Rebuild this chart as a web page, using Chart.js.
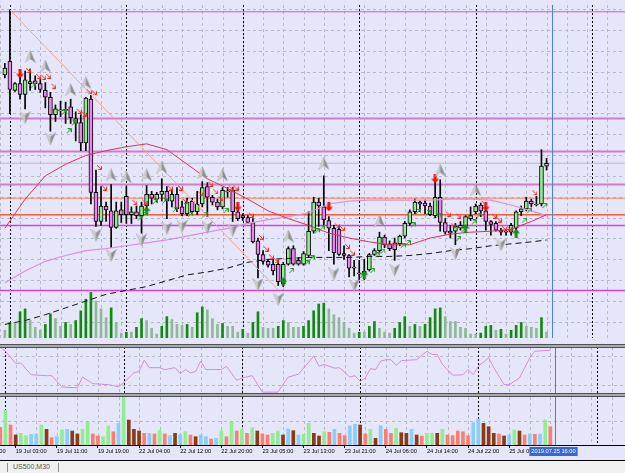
<!DOCTYPE html>
<html>
<head>
<meta charset="utf-8">
<script src="https://cdn.jsdelivr.net/npm/chart.js@4.4.1/dist/chart.umd.min.js"></script>
<style>
  html, body { margin: 0; padding: 0; }
  body { width: 625px; height: 473px; overflow: hidden; position: relative; background: #f0f0f0; font-family: 'Liberation Sans', Arial, sans-serif; }
  #plot { position: absolute; left: 0; top: 0; width: 625px; height: 460px; background: #e6e6fa; overflow: hidden; }
  #plot canvas { position: absolute; left: -28px; }
  .sep { position: absolute; left: 0; width: 625px; height: 2px; background: #a9a9b0; border-top: 1px solid #505050; border-bottom: 1px solid #505050; z-index: 5; }
  #tabs { position: absolute; left: 0; top: 460px; width: 625px; height: 13px; border-top: 1px solid #000; background: #f0f0f0; }
  #tabs .bar { position: absolute; top: 2px; width: 1px; height: 9px; background: #909090; }
  #tabs .name { position: absolute; left: 13px; top: 2px; font-size: 7px; color: #555; }
</style>
</head>
<body>
<div id="plot">
  <canvas id="main" width="658" height="343" style="top:0"></canvas>
  <canvas id="osc" width="658" height="47" style="top:347px"></canvas>
  <canvas id="vols" width="658" height="63" style="top:397px"></canvas>
  <div class="sep" style="top:344px"></div>
  <div class="sep" style="top:393px"></div>
</div>
<div id="tabs"><div class="bar" style="left:7px"></div><span class="name">US500,M30</span><div class="bar" style="left:58px"></div></div>
<script>
// ---- bar calendar (H1 bars, 01:00-23:00 sessions) ----
const days = ['19 Jul', '22 Jul', '23 Jul', '24 Jul', '25 Jul', '26 Jul'];
const pad = (n) => String(n).padStart(2, '0');
const cats = [];
for (let h = 18; h <= 23; h++) cats.push(`18 Jul ${pad(h)}:00`);
days.forEach((d) => { for (let h = 1; h <= 23; h++) cats.push(`${d} ${pad(h)}:00`); });
cats.length = 128;

const firstBar = '18 Jul 23:00';
const cursorBar = '25 Jul 16:00';
const cursorText = '2019.07.25 16:00';
const xTickLabels = ['18 Jul 18:00', '19 Jul 03:00', '19 Jul 11:00', '19 Jul 19:00', '22 Jul 04:00', '22 Jul 12:00',
  '22 Jul 20:00', '23 Jul 05:00', '23 Jul 13:00', '23 Jul 21:00', '24 Jul 06:00', '24 Jul 14:00', '24 Jul 22:00', '25 Jul 07:00'];

// ---- prices, one value per bar from firstBar ----
const open = [3012.8, 3014.2, 3011.2, 3011.9, 3010.8, 3011.9, 3012.2, 3011.9, 3011.2, 3010.5, 3008.7, 3009.1, 3009.2, 3009.5, 3008.3, 3007.9,
  3005.8, 3010.3, 3000.7, 2997.7, 2999.3, 2998.8, 2997.1, 2998.9, 3000.3, 2998.4, 2998.7, 2998.3, 2999.3, 3000.5, 3000.0, 3000.5,
  3000.8, 2999.8, 3000.5, 2999.2, 2998.5, 2999.8, 2998.7, 2999.5, 3001.3, 3000.2, 2999.7, 2999.2, 3000.8, 3000.9, 2998.7, 2998.3,
  2998.1, 2997.6, 2995.7, 2994.3, 2993.6, 2993.3, 2993.3, 2991.3, 2993.3, 2994.9, 2993.7, 2993.3, 2994.2, 2996.7, 2999.7, 2999.2,
  2997.8, 2997.0, 2996.9, 2994.4, 2994.2, 2993.0, 2992.4, 2992.3, 2992.7, 2994.3, 2994.7, 2996.1, 2995.4, 2995.5, 2995.4, 2996.2,
  2997.5, 2998.7, 2999.7, 2999.6, 2999.3, 2998.3, 3000.2, 2997.6, 2996.7, 2996.7, 2997.0, 2997.2, 2998.0, 2998.7, 2999.4, 2998.8,
  2997.7, 2997.5, 2996.8, 2996.7, 2996.6, 2997.0, 2998.7, 2999.0, 2999.8, 2999.4, 2999.5, 3003.4];
const high = [3014.0, 3019.5, 3012.0, 3013.0, 3013.2, 3013.4, 3012.7, 3012.4, 3012.0, 3011.0, 3009.7, 3010.1, 3010.0, 3010.3, 3009.0, 3008.7,
  3010.5, 3010.7, 3003.0, 3001.3, 2999.7, 3001.5, 2999.7, 2999.7, 3001.3, 2999.2, 2999.3, 2999.7, 3001.4, 3000.8, 3000.7, 3002.1,
  3001.3, 3001.0, 3001.2, 2999.8, 3000.1, 3000.1, 3000.8, 3001.8, 3001.7, 3000.4, 3000.0, 3001.2, 3001.2, 3001.2, 2999.2, 2998.5,
  2998.3, 2998.0, 2996.0, 2994.7, 2993.8, 2993.8, 2993.7, 2993.5, 2995.1, 2995.2, 2994.0, 2994.6, 2998.7, 3000.2, 3000.1, 3002.4,
  2998.2, 2997.3, 2997.2, 2995.2, 2994.3, 2993.7, 2993.7, 2993.8, 2994.4, 2994.9, 2996.6, 2996.3, 2995.7, 2996.0, 2996.3, 2997.7,
  2998.9, 3000.0, 2999.8, 2999.9, 2999.6, 3001.8, 3002.0, 2998.0, 2997.3, 2997.5, 2997.7, 2998.3, 2999.2, 2999.5, 2999.6, 2999.0,
  2997.8, 2997.7, 2997.0, 2996.9, 2997.5, 2998.8, 2999.3, 3000.2, 3000.0, 3000.3, 3005.1, 3004.2];
const low = [3012.5, 3008.8, 3011.1, 3010.3, 3009.3, 3011.2, 3011.3, 3011.0, 3009.4, 3007.0, 3008.0, 3008.5, 3007.8, 3007.8, 3006.0, 3005.0,
  3005.0, 2999.5, 2997.2, 2997.3, 2997.7, 2995.0, 2997.0, 2997.6, 2997.5, 2997.5, 2998.0, 2996.5, 2998.8, 2999.5, 2999.7, 2999.8,
  2998.0, 2999.2, 2998.7, 2998.3, 2998.3, 2998.5, 2998.4, 2999.2, 2998.2, 2999.4, 2998.9, 2999.0, 3000.2, 2997.7, 2997.8, 2997.8,
  2997.5, 2995.5, 2991.9, 2993.3, 2993.0, 2992.2, 2991.1, 2991.0, 2993.2, 2993.2, 2993.2, 2993.2, 2994.0, 2996.5, 2997.2, 2997.3,
  2994.7, 2993.3, 2994.2, 2993.8, 2992.0, 2992.1, 2991.7, 2991.7, 2992.6, 2994.2, 2994.5, 2995.0, 2994.7, 2993.7, 2995.2, 2996.0,
  2997.3, 2998.5, 2998.7, 2998.5, 2998.3, 2998.1, 2996.7, 2996.4, 2996.0, 2995.3, 2996.8, 2997.0, 2997.8, 2998.5, 2998.2, 2996.8,
  2996.3, 2996.7, 2996.3, 2996.3, 2996.3, 2996.7, 2998.3, 2998.8, 2999.2, 2999.3, 2999.3, 3003.0];
const close = [3013.5, 3011.3, 3011.9, 3010.8, 3012.3, 3012.1, 3011.9, 3011.3, 3010.5, 3008.7, 3009.3, 3009.2, 3009.2, 3008.4, 3007.8, 3005.8,
  3010.4, 3000.7, 2997.7, 2999.3, 2998.9, 2997.1, 2998.8, 2998.4, 2998.4, 2998.7, 2998.3, 2999.3, 3000.5, 3000.1, 3000.5, 3000.8,
  2999.8, 3000.5, 2999.0, 2998.5, 2999.7, 2998.7, 2999.5, 3001.2, 3000.2, 2999.7, 2999.2, 3000.9, 3000.8, 2998.7, 2998.0, 2998.1,
  2997.6, 2995.6, 2994.3, 2993.6, 2993.2, 2992.6, 2991.5, 2993.3, 2994.9, 2993.3, 2993.3, 2994.4, 2996.7, 2999.7, 2999.3, 2997.9,
  2997.0, 2994.5, 2994.3, 2994.2, 2992.9, 2992.9, 2992.3, 2992.6, 2994.3, 2994.7, 2996.1, 2995.3, 2994.9, 2994.8, 2996.2, 2997.5,
  2998.7, 2999.7, 2999.5, 2999.3, 2998.4, 3000.2, 2997.6, 2996.6, 2996.5, 2997.2, 2997.3, 2998.2, 2998.3, 2999.3, 2998.8, 2997.7,
  2997.4, 2996.8, 2996.6, 2996.6, 2997.3, 2998.7, 2999.0, 2999.8, 2999.5, 2999.5, 3003.4, 3003.7];

// tick volume (main window histogram)
const tickVol = [800, 1600, 1500, 2700, 3000, 1800, 1100, 800, 1400, 2500, 2000, 1200, 1600, 1400, 1800, 2800,
  4000, 4700, 3800, 3000, 2100, 3100, 1600, 500, 600, 600, 1100, 2000, 1800, 1000, 400, 1200,
  2200, 1900, 1400, 1300, 1400, 1100, 2600, 3200, 2900, 2000, 1400, 1500, 1200, 1200, 600, 900,
  500, 1600, 2700, 1100, 1000, 1000, 1200, 1800, 1600, 1100, 1100, 1200, 1800, 2800, 3500, 3600,
  3000, 2400, 2100, 1600, 1000, 500, 600, 600, 1200, 1700, 1000, 600, 500, 1000, 1600, 2200,
  1200, 1400, 1200, 1400, 2100, 3000, 3100, 2200, 1700, 1700, 1100, 1000, 400, 400, 500, 1200,
  1300, 800, 900, 400, 800, 1300, 1600, 1200, 1100, 1000, 2100, 600];

// lower window volume bars and their class (s = climax down, b = churn, g = climax up, l = low volume)
const barVol = [177, 350, 200, 100, 117, 93, 107, 110, 200, 157, 73, 83, 150, 157, 140, 110,
  157, 227, 110, 90, 83, 190, 133, 217, 477, 250, 157, 140, 117, 117, 110, 150,
  110, 93, 117, 107, 133, 100, 83, 100, 83, 60, 67, 143, 83, 227, 140, 160,
  117, 173, 140, 110, 100, 117, 140, 100, 160, 143, 100, 107, 217, 117, 90, 133,
  127, 157, 117, 93, 190, 207, 200, 110, 157, 67, 193, 157, 117, 167, 123, 117,
  157, 100, 90, 117, 117, 117, 157, 100, 93, 140, 133, 93, 223, 260, 217, 183,
  117, 110, 90, 100, 150, 140, 100, 110, 107, 110, 250, 183];
const barClass = 'sgsbggllgb' + 'slglbbggss' + 'ggslgbbbsl' + 'sgslblgsbl' + 'lslgsgsgsg' + 'bssggblblg' +
  'gbbgslssll' + 'bsgblssgbb' + 'lbsggbgsss' + 'ssllbbbsbl' + 'gbslslgs';

// moving averages and trend line, [bar offset from firstBar, price]
const maRed = [[0, 2997.0], [4, 3000.0], [8, 3002.4], [12, 3003.6], [16, 3004.5], [20, 3005.0], [24, 3005.4], [28, 3005.7],
  [32, 3005.1], [36, 3003.6], [40, 3002.1], [44, 3001.1], [48, 3000.0], [52, 2998.8], [56, 2998.0], [60, 2997.3], [64, 2996.5],
  [68, 2996.0], [72, 2995.6], [76, 2995.3], [80, 2995.3], [84, 2996.0], [88, 2996.4], [92, 2996.6], [96, 2996.7], [100, 2996.9],
  [104, 2997.7], [107, 2998.4]];
const maPink = [[0, 2991.4], [4, 2992.6], [8, 2993.6], [12, 2994.2], [16, 2994.7], [20, 2994.9], [24, 2995.2], [28, 2995.5],
  [32, 2995.8], [36, 2996.2], [40, 2996.6], [44, 2997.0], [48, 2997.5], [52, 2997.9], [56, 2998.2], [60, 2998.6], [64, 2999.5],
  [68, 2999.8], [72, 2999.9], [76, 2999.9], [80, 2999.9], [84, 2999.9], [88, 3000.0], [92, 3000.0], [96, 2999.9], [100, 2999.4],
  [104, 2998.8], [107, 2998.3]];
const maSlow = [[0, 2987.1], [4, 2987.5], [8, 2988.1], [12, 2988.8], [16, 2989.5], [20, 2990.2], [24, 2990.6], [28, 2991.0],
  [32, 2991.6], [36, 2992.2], [40, 2992.5], [44, 2992.9], [48, 2993.5], [52, 2993.8], [56, 2993.9], [60, 2994.0], [64, 2994.0],
  [68, 2994.0], [72, 2994.1], [76, 2994.1], [80, 2994.2], [84, 2994.4], [88, 2994.7], [92, 2994.9], [96, 2995.2], [100, 2995.4],
  [104, 2995.6], [107, 2995.8]];
const trendLine = [[1, 3019.5], [54, 2990.65]];

// fractals and signal arrows, [bar offset, price]
const fractalUp = [[5, 3014.7], [8, 3013.7], [13, 3011.3], [16, 3012.0], [21, 3002.5], [24, 3002.3], [28, 3002.5], [31, 3003.3],
  [39, 3002.7], [43, 3002.5], [56, 2996.2], [63, 3003.7], [74, 2997.8], [86, 3003.0], [93, 3001.0]];
const fractalDown = [[4, 3008.4], [9, 3006.2], [18, 2996.3], [21, 2994.2], [27, 2995.8], [32, 2997.0], [35, 2997.2], [40, 2997.1],
  [45, 2996.8], [50, 2991.2], [54, 2989.7], [65, 2992.3], [69, 2991.1], [77, 2992.7], [89, 2994.4], [98, 2995.3]];
const sellSignals = [[3, 3012.9], [46, 2999.2], [64, 2999.2], [85, 3002.1], [95, 2999.2]];
const buySignals = [[28, 2998.8], [55, 2991.5], [71, 2992.2], [91, 2997.0], [101, 2996.5]];
const sellTicks = [[4, 3013.3], [6, 3012.7], [7, 3012.6], [8, 3012.7], [9, 3011.7], [14, 3009.1], [15, 3008.8], [16, 3011.1],
  [17, 3011.0], [18, 3003.3], [19, 3001.2], [25, 2999.7], [27, 2999.7], [32, 3001.2], [34, 3001.2], [35, 2999.8], [38, 3000.6],
  [40, 3001.6], [41, 3000.8], [42, 3000.1], [44, 3001.2], [45, 3001.2], [48, 2998.4], [50, 2996.1], [51, 2994.9], [52, 2994.1],
  [53, 2993.7], [65, 2997.3], [66, 2997.0], [67, 2995.2], [68, 2994.5], [87, 2998.5], [88, 2997.3], [89, 2998.3], [94, 2999.6],
  [96, 2998.3], [97, 2997.9], [98, 2997.0], [99, 2997.0], [104, 3000.7]];
const buyTicks = [[5, 3011.7], [11, 3008.9], [12, 3007.0], [13, 3007.8], [26, 2998.0], [27, 2998.4], [29, 2999.7], [31, 2999.8],
  [33, 2998.9], [36, 2998.4], [39, 2998.4], [43, 2998.8], [56, 2992.6], [59, 2993.4], [60, 2993.9], [61, 2996.7], [62, 2997.0],
  [70, 2992.1], [72, 2992.6], [73, 2994.2], [74, 2994.6], [78, 2995.2], [79, 2995.5], [80, 2997.3], [81, 2998.7], [83, 2998.6],
  [85, 2998.3], [89, 2995.9], [90, 2996.8], [92, 2997.6], [93, 2998.3], [102, 2997.8], [103, 2998.8], [106, 2999.3]];

// horizontal levels drawn on the chart
const levelPrices = [3019.3, 3008.3, 3004.9, 3003.7, 3001.5, 3000.1, 2998.4, 2997.3, 2990.6];
const levelKinds = ['top', 'zone', 'zone', 'bid', 'zone', 'pivot', 'pivotMain', 'band', 'band'];
const priceGrid = [3019.6, 3017.45, 3015.3, 3013.15, 3011.0, 3008.85, 3006.7, 3004.55, 3002.4, 3000.25, 2998.1, 2995.95,
  2993.8, 2991.65, 2989.5, 2987.35];

// oscillator (lower window 1), [bar offset, value]
const oscLine = [[0, 99], [1, 91], [3, 65], [4, 66], [6, 41], [9, 39], [10, 39], [12, 15], [15, 13], [16, 36], [18, 22], [21, 20],
  [23, 15], [24, 24], [26, 45], [27, 48], [28, 72], [29, 56], [31, 56], [32, 52], [34, 56], [35, 43], [36, 52], [37, 45], [38, 48],
  [39, 70], [40, 52], [43, 52], [44, 59], [46, 29], [47, 34], [49, 39], [51, 4], [54, 4], [56, 36], [58, 42], [61, 81], [62, 59],
  [63, 63], [65, 55], [66, 56], [68, 36], [69, 39], [70, 27], [71, 34], [72, 54], [73, 52], [74, 70], [75, 73], [76, 73], [77, 61],
  [78, 71], [81, 73], [83, 91], [84, 84], [85, 84], [86, 63], [88, 40], [90, 41], [91, 52], [92, 41], [93, 59], [95, 77], [96, 56],
  [98, 20], [99, 20], [101, 34], [103, 77], [104, 91], [107, 93]];
const oscGrid = [20, 80];

// ---- helpers ----
const k0 = cats.indexOf(firstBar);
const perBar = (fn) => cats.map((c, k) => { const j = k - k0; return j >= 0 && j < close.length ? fn(j) : null; });
// offsets in the [offset, value] lists count firstBar as 0
const pts = (list) => list.map(([j, v]) => ({ x: cats[k0 + j], y: v }));

function hline(ctx, x1, y1, x2, y2) { ctx.beginPath(); ctx.moveTo(x1, y1); ctx.lineTo(x2, y2); ctx.stroke(); }

const levelStyle = {
  top: ['#cc5acc', 1], zone: ['#d27ad2', 2], bid: ['#b9b9c3', 1], pivot: ['#ff7f50', 1], pivotMain: ['#ff5a36', 1.5], band: ['#dd3fdd', 1.5]
};

function backdrop(cfg) {
  return {
    id: 'backdrop' + cfg.name,
    beforeDatasetsDraw(chart) {
      const { ctx, chartArea: a, scales } = chart;
      const x = scales.x;
      const y = scales.y;
      ctx.save();
      ctx.lineWidth = 1;
      ctx.strokeStyle = '#b8b8c6';
      ctx.setLineDash([3, 3]);
      (cfg.hGrid || []).forEach((v) => {
        const py = Math.round(y.getPixelForValue(v)) + 0.5;
        hline(ctx, a.left, py, a.right, py);
      });
      cats.forEach((c, k) => {
        if (k % 4 !== 0) return;
        const px = Math.round(x.getPixelForValue(k)) + 0.5;
        hline(ctx, px, a.top, px, a.bottom);
      });
      ctx.strokeStyle = '#000';
      ctx.setLineDash([2, 2]);
      cats.forEach((c, k) => {
        if (!c.endsWith(' 01:00')) return;
        const px = Math.round(x.getPixelForValue(k)) + 0.5;
        hline(ctx, px, a.top, px, a.bottom);
      });
      ctx.setLineDash([]);
      if (cfg.levels) {
        levelPrices.forEach((p, n) => {
          const [color, w] = levelStyle[levelKinds[n]];
          const py = y.getPixelForValue(p);
          ctx.strokeStyle = color;
          ctx.lineWidth = w;
          hline(ctx, a.left, py, a.right, py);
        });
      }
      ctx.restore();
    },
    afterDatasetsDraw(chart) {
      const { ctx, chartArea: a, scales } = chart;
      const px = Math.round(scales.x.getPixelForValue(cats.indexOf(cursorBar))) + 0.5;
      ctx.save();
      ctx.strokeStyle = '#4a7fe8';
      ctx.lineWidth = 1;
      hline(ctx, px, a.top, px, a.bottom);
      if (cfg.stamp) {
        ctx.font = '5.7px "Liberation Sans", Arial, sans-serif';
        const w = ctx.measureText(cursorText).width + 4;
        ctx.fillStyle = '#3568d4';
        ctx.fillRect(px - w / 2 - 2, a.bottom + 2, w, 9);
        ctx.fillStyle = '#fff';
        ctx.textBaseline = 'middle';
        ctx.fillText(cursorText, px - w / 2, a.bottom + 6.5);
      }
      ctx.restore();
    }
  };
}

function arrowHead(up) {
  const c = document.createElement('canvas');
  c.width = 11; c.height = 13;
  const g = c.getContext('2d');
  if (!up) { g.translate(0, 13); g.scale(1, -1); }
  g.beginPath(); g.moveTo(5.5, 0); g.lineTo(11, 13); g.lineTo(5.5, 9); g.lineTo(0, 13); g.closePath();
  g.fillStyle = '#8e8e8e'; g.fill();
  g.beginPath(); g.moveTo(5.5, 0); g.lineTo(5.5, 9); g.lineTo(0, 13); g.closePath();
  g.fillStyle = '#cdcdcd'; g.fill();
  return c;
}

function signalArrow(up, color) {
  const c = document.createElement('canvas');
  c.width = 8; c.height = 9;
  const g = c.getContext('2d');
  if (!up) { g.translate(0, 9); g.scale(1, -1); }
  g.beginPath(); g.moveTo(4, 0); g.lineTo(8, 4.5); g.lineTo(5.5, 4.5); g.lineTo(5.5, 9); g.lineTo(2.5, 9); g.lineTo(2.5, 4.5); g.lineTo(0, 4.5); g.closePath();
  g.fillStyle = color; g.fill();
  return c;
}

// tiny diagonal arrow drawn to the right of the bar (down-right for sell, up-right for buy)
function tickArrow(sell, color) {
  const c = document.createElement('canvas');
  c.width = 12; c.height = 6;
  const g = c.getContext('2d');
  if (!sell) { g.translate(0, 6); g.scale(1, -1); }
  g.strokeStyle = color; g.lineWidth = 1;
  g.beginPath(); g.moveTo(7, 1); g.lineTo(11, 5); g.stroke();
  g.beginPath(); g.moveTo(8, 5.5); g.lineTo(11.5, 5.5); g.lineTo(11.5, 2); g.stroke();
  return c;
}

const base = {
  responsive: false,
  animation: false,
  layout: { padding: 0 },
  plugins: { legend: { display: false }, tooltip: { enabled: false } },
  events: []
};

const xHidden = { type: 'category', labels: cats, offset: true, display: false };

// ---- main window ----
new Chart(document.getElementById('main'), {
  type: 'bar',
  data: {
    labels: cats,
    datasets: [
      {
        data: perBar((j) => tickVol[j]), yAxisID: 'yv', grouped: false, barThickness: 2, order: 10,
        backgroundColor: perBar((j) => (j > 0 && tickVol[j] > tickVol[j - 1] ? '#128a12' : '#8fb996'))
      },
      { data: perBar((j) => [low[j], high[j]]), grouped: false, barThickness: 1, backgroundColor: '#000', order: 4 },
      {
        data: perBar((j) => (open[j] === close[j] ? [open[j] - 0.05, close[j] + 0.05] : [open[j], close[j]])),
        grouped: false, barThickness: 4, borderWidth: 1, borderColor: '#000', borderSkipped: false, order: 3,
        backgroundColor: perBar((j) => (close[j] >= open[j] ? '#90ee90' : '#ee82ee'))
      },
      { type: 'line', data: pts(trendLine), borderColor: '#f7a08e', borderWidth: 1, pointRadius: 0, order: 2 },
      { type: 'line', data: pts(maRed), borderColor: '#e0305a', borderWidth: 1, pointRadius: 0, order: 2 },
      { type: 'line', data: pts(maPink), borderColor: '#e08ee0', borderWidth: 1.2, pointRadius: 0, order: 2 },
      { type: 'line', data: pts(maSlow), borderColor: '#111', borderWidth: 1, borderDash: [6, 4], pointRadius: 0, order: 2 },
      { type: 'line', data: pts(sellTicks), showLine: false, pointStyle: tickArrow(true, '#f52a1a'), order: 1 },
      { type: 'line', data: pts(buyTicks), showLine: false, pointStyle: tickArrow(false, '#1d9a1d'), order: 1 },
      { type: 'line', data: pts(fractalUp), showLine: false, pointStyle: arrowHead(true), order: 1 },
      { type: 'line', data: pts(fractalDown), showLine: false, pointStyle: arrowHead(false), order: 1 },
      { type: 'line', data: pts(sellSignals), showLine: false, pointStyle: signalArrow(false, '#ee1111'), order: 1 },
      { type: 'line', data: pts(buySignals), showLine: false, pointStyle: signalArrow(true, '#138a13'), order: 1 }
    ]
  },
  options: {
    ...base,
    scales: {
      x: xHidden,
      y: { display: false, min: 2985.7, max: 3020 },
      yv: { display: false, min: 0, max: 34300 }
    }
  },
  plugins: [backdrop({ name: 'main', hGrid: priceGrid, levels: true })]
});

// ---- oscillator window ----
new Chart(document.getElementById('osc'), {
  type: 'line',
  data: {
    labels: cats,
    datasets: [{ data: pts(oscLine), borderColor: '#d98ad9', borderWidth: 1, pointRadius: 0 }]
  },
  options: {
    ...base,
    scales: { x: xHidden, y: { display: false, min: 0, max: 100 } }
  },
  plugins: [backdrop({ name: 'osc', hGrid: oscGrid })]
});

// ---- volume window with the time axis ----
const classColor = { s: '#fa7f6e', b: '#8b3a16', g: '#90ee90', l: '#87cefa' };
new Chart(document.getElementById('vols'), {
  type: 'bar',
  data: {
    labels: cats,
    datasets: [{
      data: perBar((j) => barVol[j]), barThickness: 3,
      backgroundColor: perBar((j) => classColor[barClass[j]])
    }]
  },
  options: {
    ...base,
    scales: {
      x: {
        type: 'category', labels: cats, offset: true,
        afterFit: (s) => { s.height = 15; },
        border: { display: true, color: '#000' },
        grid: {
          offset: false, drawOnChartArea: false, drawTicks: true, tickLength: 3,
          tickColor: (ctx) => (xTickLabels.includes(cats[ctx.index]) ? '#000' : 'rgba(0,0,0,0)')
        },
        ticks: {
          autoSkip: false, maxRotation: 0, minRotation: 0, align: 'start', padding: 0, color: '#000',
          font: { family: '"Liberation Sans", Arial, sans-serif', size: 5.7 },
          callback: (v, k) => (xTickLabels.includes(cats[k]) ? cats[k] : '')
        }
      },
      y: { display: false, min: 0, max: 480 }
    }
  },
  plugins: [backdrop({ name: 'vol', hGrid: [240], stamp: true })]
});
</script>
</body>
</html>
